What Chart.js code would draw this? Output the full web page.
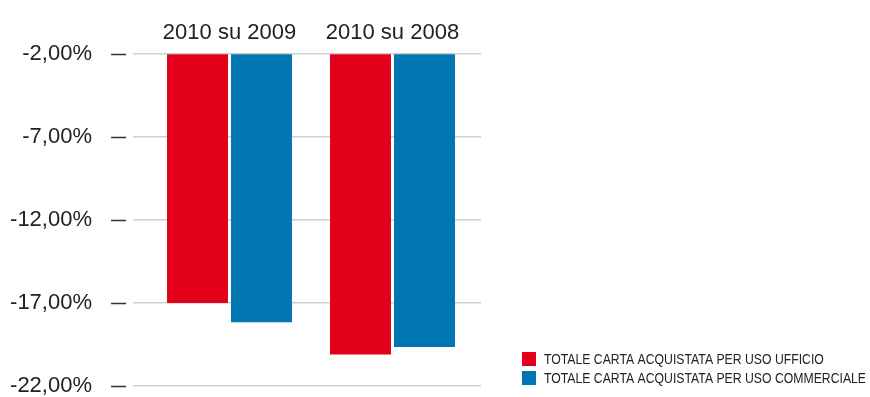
<!DOCTYPE html>
<html>
<head>
<meta charset="utf-8">
<script src="https://cdn.jsdelivr.net/npm/chart.js@4/dist/chart.umd.min.js"></script>
<style>
  html, body { margin: 0; padding: 0; background: #fff; }
  #wrap { width: 870px; height: 397px; }
</style>
</head>
<body>
<div id="wrap"><canvas id="carta"></canvas></div>
<script>
// variazione percentuale della carta acquistata
const categorie = ['2010 su 2009', '2010 su 2008'];
const serieNomi = ['TOTALE CARTA ACQUISTATA PER USO UFFICIO', 'TOTALE CARTA ACQUISTATA PER USO COMMERCIALE'];
const ufficio = [-17.0, -20.1];
const commerciale = [-18.15, -19.65];
const colori = ['#e2001a', '#0077b0'];

const fontBase = "'Liberation Sans', Arial, sans-serif";

// trattini grigi a sinistra di ogni linea della griglia
const trattini = {
    id: 'trattini',
    afterDraw(chart) {
        const y = chart.scales.y;
        const ctx = chart.ctx;
        ctx.save();
        ctx.strokeStyle = '#333';
        ctx.lineWidth = 1.5;
        y.ticks.forEach(t => {
            const py = Math.round(y.getPixelForValue(t.value)) + 0.5;
            ctx.beginPath();
            ctx.moveTo(chart.chartArea.left - 22, py);
            ctx.lineTo(chart.chartArea.left - 7, py);
            ctx.stroke();
        });
        ctx.restore();
    }
};

// legenda in basso a destra, testo condensato
const legenda = {
    id: 'legenda',
    afterDraw(chart) {
        const ctx = chart.ctx;
        const x0 = chart.chartArea.right + 41;
        const larghezzaTesto = 322;
        ctx.save();
        ctx.font = '15px ' + fontBase;
        ctx.textBaseline = 'middle';
        const maxW = Math.max(...serieNomi.map(s => ctx.measureText(s).width));
        const sx = larghezzaTesto / maxW;
        serieNomi.forEach((nome, i) => {
            const yc = 359 + i * 19;
            ctx.fillStyle = colori[i];
            ctx.fillRect(x0, yc - 7, 14, 14);
            ctx.save();
            ctx.translate(x0 + 22, yc + 1);
            ctx.scale(sx, 1);
            ctx.fillStyle = '#222';
            ctx.fillText(nome, 0, 0);
            ctx.restore();
        });
        ctx.restore();
    }
};

const punti = arr => arr.map((v, i) => ({ x: i + 1, y: v }));

new Chart(document.getElementById('carta'), {
    type: 'bar',
    data: {
        datasets: [{
            label: serieNomi[0],
            data: punti(ufficio),
            backgroundColor: colori[0]
        }, {
            label: serieNomi[1],
            data: punti(commerciale),
            backgroundColor: colori[1]
        }]
    },
    options: {
        responsive: true,
        maintainAspectRatio: false,
        animation: false,
        categoryPercentage: 0.785,
        barPercentage: 0.953,
        layout: { padding: { top: 0, right: 389, bottom: 0, left: 0 } },
        plugins: {
            tooltip: { enabled: false },
            legend: { display: false }
        },
        scales: {
            x: {
                type: 'linear',
                position: 'top',
                offset: false,
                min: 0.408,
                max: 2.543,
                afterBuildTicks(scale) {
                    scale.ticks = categorie.map((c, i) => ({ value: i + 1 }));
                },
                afterFit(scale) {
                    scale.height = 51;
                },
                grid: { display: false, offset: false },
                border: { display: false },
                ticks: {
                    autoSkip: false,
                    maxRotation: 0,
                    padding: 0,
                    color: '#222',
                    font: { family: fontBase, size: 22 },
                    callback: v => categorie[v - 1]
                }
            },
            y: {
                min: -22,
                max: -2,
                afterFit(scale) {
                    scale.width = 133;
                    scale.paddingBottom = 11;
                },
                grid: { color: '#cfcfcf', lineWidth: 1.5, drawTicks: false },
                border: { display: false },
                ticks: {
                    stepSize: 5,
                    padding: 41,
                    color: '#222',
                    font: { family: fontBase, size: 22 },
                    callback: v => v.toFixed(2).replace('.', ',') + '%'
                }
            }
        }
    },
    plugins: [trattini, legenda]
});
</script>
</body>
</html>
